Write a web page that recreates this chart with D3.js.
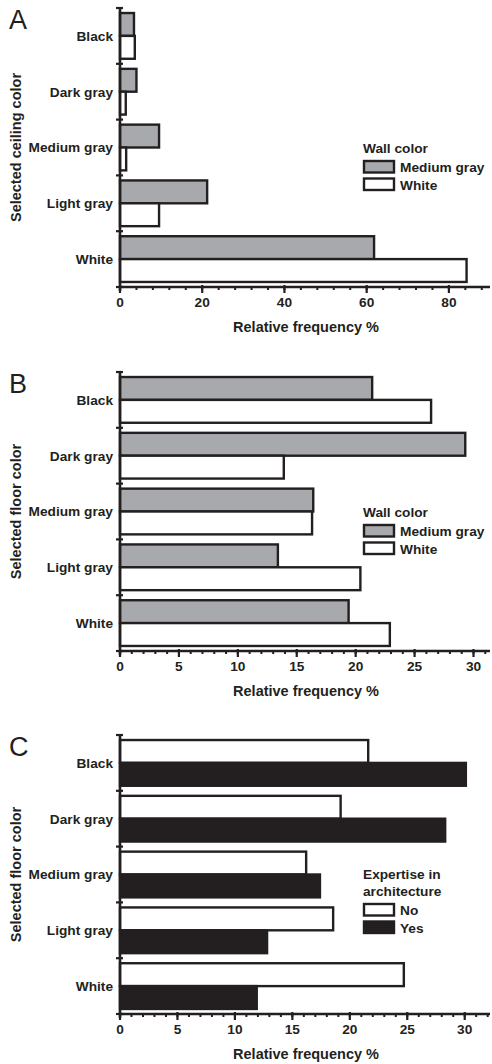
<!DOCTYPE html>
<html>
<head>
<meta charset="utf-8">
<script src="https://cdn.jsdelivr.net/npm/d3@7"></script>
<style>
  html, body { margin: 0; padding: 0; background: #fff; }
  svg { display: block; }
  text { font-family: "Liberation Sans", Arial, sans-serif; fill: #231f20; }
</style>
</head>
<body>
<svg id="chart" width="492" height="1064"></svg>
<script>
// ---- Data ----
const colorCategories = ["Black", "Dark gray", "Medium gray", "Light gray", "White"];

const ceilingMediumGrayWall = [3.4, 4.0, 9.5, 21.2, 61.8];
const ceilingWhiteWall      = [3.6, 1.4, 1.5, 9.5, 84.3];

const floorMediumGrayWall = [21.4, 29.3, 16.4, 13.4, 19.4];
const floorWhiteWall      = [26.4, 13.9, 16.3, 20.4, 22.9];

const floorExpertiseNo  = [21.6, 19.2, 16.2, 18.55, 24.7];
const floorExpertiseYes = [30.1, 28.3, 17.4, 12.8, 11.9];

const ticksCeiling = [0, 20, 40, 60, 80];
const ticksFloor   = [0, 5, 10, 15, 20, 25, 30];

const wallLegend = ["Medium gray", "White"];
const expertiseLegend = ["No", "Yes"];

// ---- Styles ----
const INK = "#231f20";
const GRAY = "#a7a9ac";
const WHITE = "#ffffff";
const FS = 13.7;      // label font size
const FS_TITLE = 14.5;

const svg = d3.select("#chart");

function drawPanel(cfg) {
  const left = 120, right = 490;
  const top = cfg.top, bottom = cfg.top + 279;
  const g = svg.append("g");

  const x = d3.scaleLinear().domain([0, cfg.xMax]).range([left, right]);
  const y0 = d3.scaleBand().domain(colorCategories).range([top, bottom]).padding(0);
  const y1 = d3.scaleBand().domain(cfg.seriesNames).range([0, y0.bandwidth()])
               .paddingInner(0).paddingOuter(0.22);

  // bars
  cfg.seriesNames.forEach((s, si) => {
    const vals = cfg.series[si];
    g.append("g").selectAll("rect").data(colorCategories).join("rect")
      .attr("x", x(0))
      .attr("y", d => y0(d) + y1(s))
      .attr("width", (d, i) => x(vals[i]) - x(0))
      .attr("height", y1.bandwidth())
      .attr("fill", cfg.fills[si])
      .attr("stroke", INK)
      .attr("stroke-width", 2.4);
  });

  // y axis line
  g.append("line").attr("x1", left).attr("x2", left)
    .attr("y1", top).attr("y2", bottom + 4)
    .attr("stroke", INK).attr("stroke-width", 2.6);
  // y axis ticks at band boundaries
  const bounds = colorCategories.map(c => y0(c)).concat([bottom]);
  g.selectAll(".ytick").data(bounds).join("line")
    .attr("x1", left - 4).attr("x2", left + 3)
    .attr("y1", d => d).attr("y2", d => d)
    .attr("stroke", INK).attr("stroke-width", 2.2);

  // category labels
  g.selectAll(".ylab").data(colorCategories).join("text")
    .attr("x", 113).attr("y", d => y0(d) + y0.bandwidth() / 2)
    .attr("dy", "0.36em")
    .attr("text-anchor", "end")
    .attr("font-size", FS).attr("font-weight", "bold")
    .text(d => d);

  // x axis line
  g.append("line").attr("x1", left - 1).attr("x2", right)
    .attr("y1", bottom).attr("y2", bottom)
    .attr("stroke", INK).attr("stroke-width", 2.6);
  // minor ticks
  const minor = d3.range(0, cfg.xMax + 1e-9, cfg.minorStep);
  g.selectAll(".minor").data(minor).join("line")
    .attr("x1", d => x(d)).attr("x2", d => x(d))
    .attr("y1", bottom).attr("y2", bottom + 3)
    .attr("stroke", INK).attr("stroke-width", 2);
  // major ticks
  g.selectAll(".major").data(cfg.ticks).join("line")
    .attr("x1", d => x(d)).attr("x2", d => x(d))
    .attr("y1", bottom - 2).attr("y2", bottom + 6)
    .attr("stroke", INK).attr("stroke-width", 2.2);
  g.selectAll(".xlab").data(cfg.ticks).join("text")
    .attr("x", d => x(d)).attr("y", bottom + 19.5)
    .attr("text-anchor", "middle")
    .attr("font-size", FS).attr("font-weight", "bold")
    .text(d => d);

  // x title
  g.append("text").attr("x", 306).attr("y", bottom + 44.5)
    .attr("text-anchor", "middle").attr("font-size", FS_TITLE).attr("font-weight", "bold")
    .text("Relative frequency %");

  // y title
  g.append("text")
    .attr("transform", `translate(20.5,${(top + bottom) / 2}) rotate(-90)`)
    .attr("text-anchor", "middle").attr("font-size", FS_TITLE).attr("font-weight", "bold")
    .text(cfg.yTitle);

  // panel letter
  g.append("text").attr("x", 9).attr("y", top + 21)
    .attr("font-size", 27).attr("font-weight", "normal")
    .text(cfg.letter);

  // legend
  const lg = g.append("g");
  cfg.legendTitle.forEach((t, i) => {
    lg.append("text").attr("x", 363).attr("y", top + cfg.legendTitleOffset + i * 17.4)
      .attr("font-size", FS).attr("font-weight", "bold").text(t);
  });
  const swTop = top + cfg.legendSwatchOffset;
  cfg.legendNames.forEach((n, i) => {
    const sy = swTop + i * 17.5;
    lg.append("rect").attr("x", 364).attr("y", sy).attr("width", 30).attr("height", 11.5)
      .attr("fill", cfg.fills[i]).attr("stroke", INK).attr("stroke-width", 2.4);
    lg.append("text").attr("x", 400).attr("y", sy + 11)
      .attr("font-size", FS).attr("font-weight", "bold").text(n);
  });
}

drawPanel({
  letter: "A", top: 8, xMax: 90, minorStep: 4, ticks: ticksCeiling,
  seriesNames: wallLegend, series: [ceilingMediumGrayWall, ceilingWhiteWall],
  fills: [GRAY, WHITE], yTitle: "Selected ceiling color",
  legendTitle: ["Wall color"], legendNames: wallLegend,
  legendTitleOffset: 145, legendSwatchOffset: 153
});

drawPanel({
  letter: "B", top: 372, xMax: 31.4, minorStep: 1, ticks: ticksFloor,
  seriesNames: wallLegend, series: [floorMediumGrayWall, floorWhiteWall],
  fills: [GRAY, WHITE], yTitle: "Selected floor color",
  legendTitle: ["Wall color"], legendNames: wallLegend,
  legendTitleOffset: 145, legendSwatchOffset: 153
});

drawPanel({
  letter: "C", top: 735, xMax: 32.2, minorStep: 1, ticks: ticksFloor,
  seriesNames: expertiseLegend, series: [floorExpertiseNo, floorExpertiseYes],
  fills: [WHITE, INK], yTitle: "Selected floor color",
  legendTitle: ["Expertise in", "architecture"], legendNames: expertiseLegend,
  legendTitleOffset: 144, legendSwatchOffset: 169
});
</script>
</body>
</html>
